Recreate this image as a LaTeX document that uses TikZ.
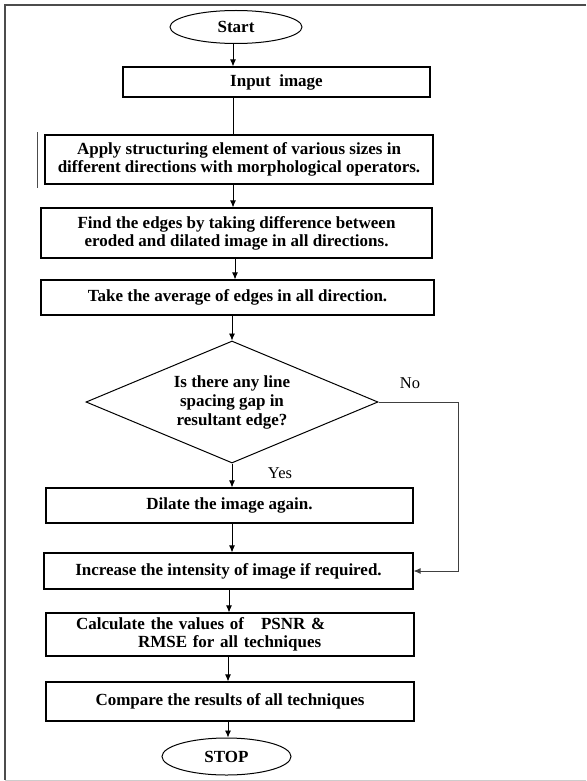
\documentclass[tikz,border=0pt]{standalone}
\usepackage{fontspec}
\setmainfont{Liberation Serif}
\usepackage{tikz}
\usetikzlibrary{arrows.meta}
\usetikzlibrary{shapes.geometric, positioning, calc}

\tikzset{
    box/.style={draw, line width=1.2pt, inner sep=4pt, align=center, font=\fontsize{17}{18}\selectfont\bfseries},
    term/.style={ellipse, draw, line width=1pt, inner sep=0pt, font=\fontsize{17}{18}\selectfont\bfseries},
    lbl/.style={font=\fontsize{16.5}{18}\selectfont},
}

\begin{document}
\begin{tikzpicture}[x=1pt, y=-1pt, >={Latex[length=7pt, width=6pt]}]
    \useasboundingbox (0,0) rectangle (586,781);
    %\draw[step=50, gray!30, very thin] (0,0) grid (586,781);

    % page frame
    \draw[line width=1.5pt, black!70] (586,5) -- (5,5) -- (5,780);
    \draw[line width=1pt, black!20] (5,780) -- (586,780);

    \coordinate (spine) at (233, 0);
    \coordinate (spinelow) at (229, 0);

    \node[term, minimum width=132pt, minimum height=33pt] (start) at (236, 27) {Start};
    \node[box, minimum width=307pt, minimum height=30pt] (input) at (276.5, 82) {Input\ \ image};
    \node[box, minimum width=388pt, minimum height=49pt] (apply) at (239, 159.5) {Apply structuring element of various sizes in\\different directions with morphological operators.};
    \node[box, minimum width=391pt, minimum height=50pt] (find) at (236.5, 233) {Find the edges by taking difference between\\eroded and dilated image in all directions.};
    \node[box, minimum width=393pt, minimum height=35pt] (take) at (237.5, 297.5) {Take the average of edges in all direction.};

    \node[diamond, draw, line width=1pt, inner sep=0pt, aspect=2.4, minimum width=292pt, minimum height=122pt,
          align=center, font=\fontsize{17}{19}\selectfont\bfseries] (diam) at (232, 402) {Is there any line\\spacing gap in\\resultant edge?};
    \node[lbl] (lblno) at (410, 383) {No};
    \node[lbl] (lblyes) at (280, 473) {Yes};

    \node[box, minimum width=367pt, minimum height=35pt] (dilate) at (229.5, 505.5) {Dilate the image again.};
    \node[box, minimum width=369pt, minimum height=36pt] (incr) at (228.5, 571) {Increase the intensity of image if required.};
    \node[box, minimum width=368pt, minimum height=43pt, text width=360pt, align=left] (calc) at (230, 634.5)
        {\hspace*{26pt}Calculate the values of\ \ \ PSNR \&\\\hspace*{88pt}RMSE for all techniques};
    \node[box, minimum width=368pt, minimum height=39pt] (comp) at (230, 701.5) {Compare the results of all techniques};
    \node[term, minimum width=129pt, minimum height=37pt] (stop) at (226.5, 756.5) {STOP};

    % stray mark beside the second box
    \draw[line width=1pt, black!70] ([xshift=-7pt, yshift=2pt]apply.north west) -- ([xshift=-7pt, yshift=-3pt]apply.south west);

    \draw[thick, ->] (start.south -| spine) -- (input.north -| spine);
    \draw[thick] (input.south -| spine) -- (apply.north -| spine);
    \draw[thick, ->] (apply.south -| spine) -- (find.north -| spine);
    \draw[thick, ->] ([xshift=2pt]find.south -| spine) -- ([xshift=2pt]take.north -| spine);
    \draw[thick, ->] (take.south -| diam.north) -- (diam.north);
    \draw[thick, ->] (diam.south) -- (diam.south |- dilate.north);
    \draw[thick, ->] (dilate.south -| diam.south) -- (incr.north -| diam.south);
    \draw[thick, ->] (incr.south -| spinelow) -- (calc.north -| spinelow);
    \draw[thick, ->] ([xshift=-1pt]calc.south -| spinelow) -- ([xshift=-1pt]comp.north -| spinelow);
    \draw[thick, ->] ([xshift=-1pt]comp.south -| spinelow) -- (stop.north -| {(228,0)});

    \draw[thick, black!75, ->] (diam.east) -- ++(80,0) |- (incr.east);

\end{tikzpicture}
\end{document}
